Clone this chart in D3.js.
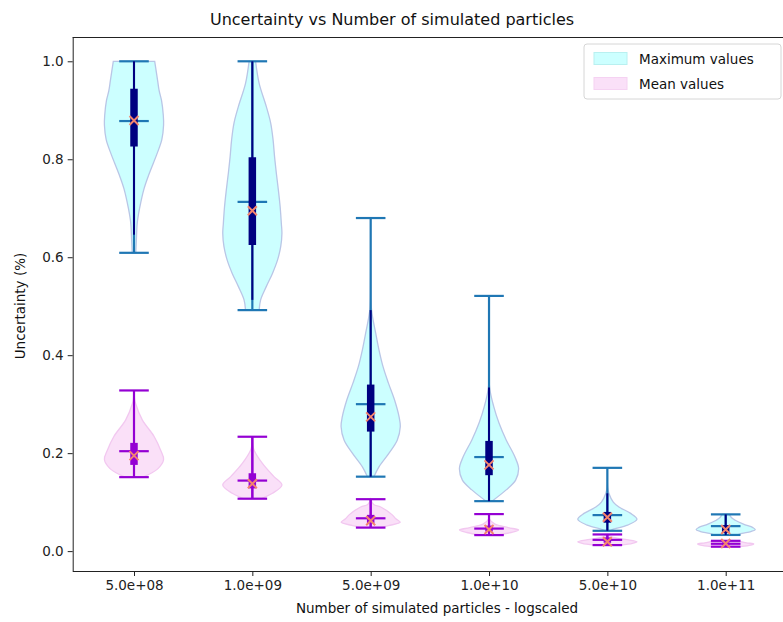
<!DOCTYPE html>
<html>
<head>
<meta charset="utf-8">
<script src="https://cdn.jsdelivr.net/npm/d3@7"></script>
<style>
  body { margin: 0; background: #fff; }
  svg { font-family: "DejaVu Sans", sans-serif; display: block; }
</style>
</head>
<body>
<svg id="chart" width="783" height="622"></svg>
<script>

// category labels for the x axis (positions 1..6)
const categories = ["5.0e+08", "1.0e+09", "5.0e+09", "1.0e+10", "5.0e+10", "1.0e+11"];
const yTicks = [0.0, 0.2, 0.4, 0.6, 0.8, 1.0];

// stats of "Maximum values" violins
const maxMin    = [0.609, 0.492, 0.152, 0.102, 0.0415, 0.033];
const maxQ1     = [0.826, 0.625, 0.244, 0.155, 0.058, 0.037];
const maxMedian = [0.878, 0.713, 0.300, 0.192, 0.0735, 0.051];
const maxQ3     = [0.944, 0.804, 0.340, 0.225, 0.080, 0.053];
const maxMax    = [1.0, 1.0, 0.680, 0.521, 0.170, 0.075];
const maxMean   = [0.879, 0.695, 0.274, 0.176, 0.069, 0.044];
const maxWhiskLo = [0.646, 0.513, 0.152, 0.102, 0.0415, 0.033];
const maxWhiskHi = [1.0, 1.0, 0.492, 0.334, 0.118, 0.075];

// stats of "Mean values" violins
const meanMin    = [0.151, 0.107, 0.048, 0.0327, 0.0123, 0.009];
const meanQ1     = [0.176, 0.128, 0.057, 0.040, 0.017, 0.012];
const meanMedian = [0.204, 0.144, 0.067, 0.046, 0.023, 0.015];
const meanQ3     = [0.221, 0.159, 0.074, 0.052, 0.028, 0.018];
const meanMax    = [0.328, 0.2335, 0.106, 0.0756, 0.034, 0.021];
const meanMean   = [0.195, 0.1375, 0.062, 0.044, 0.019, 0.0155];

// violin outlines: [value, relative half width]
const maxShapes = [
  [[0.609,0.06],[0.635,0.08],[0.67,0.11],[0.70,0.19],[0.74,0.34],[0.77,0.51],[0.81,0.77],[0.84,0.94],[0.87,1.0],[0.89,0.99],[0.92,0.93],[0.94,0.85],[0.96,0.80],[1.0,0.70]],
  [[0.492,0.23],[0.513,0.28],[0.54,0.47],[0.567,0.68],[0.594,0.85],[0.622,0.96],[0.649,1.0],[0.669,0.98],[0.703,0.94],[0.737,0.88],[0.772,0.81],[0.806,0.75],[0.84,0.70],[0.874,0.62],[0.908,0.47],[0.955,0.23],[1.0,0.11]],
  [[0.152,0.11],[0.172,0.28],[0.20,0.62],[0.227,0.90],[0.254,1.0],[0.274,0.96],[0.308,0.81],[0.343,0.60],[0.376,0.42],[0.411,0.28],[0.445,0.17],[0.492,0.03],[0.55,0.005],[0.68,0.0]],
  [[0.102,0.10],[0.125,0.58],[0.145,0.90],[0.169,1.0],[0.193,0.87],[0.227,0.58],[0.261,0.34],[0.295,0.16],[0.334,0.02],[0.40,0.005],[0.521,0.0]],
  [[0.0415,0.10],[0.044,0.17],[0.053,0.68],[0.065,1.0],[0.077,0.79],[0.09,0.39],[0.10,0.2],[0.118,0.05],[0.13,0.01],[0.17,0.0]],
  [[0.033,0.40],[0.036,0.55],[0.040,0.85],[0.044,1.0],[0.048,0.92],[0.055,0.6],[0.063,0.32],[0.068,0.2],[0.075,0.12]]
];
const meanShapes = [
  [[0.151,0.30],[0.155,0.45],[0.169,0.82],[0.187,1.0],[0.206,0.90],[0.234,0.68],[0.268,0.28],[0.302,0.05],[0.31,0.02],[0.328,0.0]],
  [[0.107,0.32],[0.108,0.34],[0.118,0.68],[0.135,1.0],[0.152,0.73],[0.179,0.34],[0.206,0.06],[0.215,0.02],[0.2335,0.0]],
  [[0.048,0.35],[0.052,0.6],[0.059,1.0],[0.066,0.85],[0.074,0.73],[0.09,0.34],[0.095,0.1],[0.106,0.0]],
  [[0.0327,0.25],[0.038,0.75],[0.043,1.0],[0.048,0.65],[0.055,0.2],[0.065,0.02],[0.0756,0.0]],
  [[0.0123,0.45],[0.016,0.85],[0.019,1.0],[0.024,0.6],[0.029,0.15],[0.034,0.02]],
  [[0.009,0.5],[0.012,0.85],[0.0145,0.95],[0.017,0.7],[0.021,0.4]]
];

const svg = d3.select("#chart");
const axLeft = 72.7, axRight = 787, axTop = 37, axBottom = 571;

const x = d3.scaleLinear().domain([0.482, 6.518]).range([axLeft, axRight]);
const y = d3.scaleLinear().domain([-0.0406, 1.0496]).range([axBottom, axTop]);
const halfW = x(1.25) - x(1);     // widths=0.5
const capW = x(1.125) - x(1);

const plot = svg.append("g");

function drawSeries(shapes, mins, q1s, meds, q3s, maxs, means, wlo, whi, fill, edge, lineCol, boxCol) {
  const area = d3.area()
    .curve(d3.curveCatmullRom)
    .y(d => y(d[0]));

  shapes.forEach(function(s, i) {
    let cx = x(i + 1);
    area.x0(d => cx - d[1] * halfW).x1(d => cx + d[1] * halfW);
    plot.append("path")
      .attr("d", area(s))
      .attr("fill", fill)
      .attr("stroke", edge)
      .attr("stroke-width", 1.3);
  });

  const g = plot.append("g");
  // bars min -> max
  g.selectAll(null).data(mins).enter().append("line")
    .attr("x1", (d, i) => x(i + 1)).attr("x2", (d, i) => x(i + 1))
    .attr("y1", d => y(d)).attr("y2", (d, i) => y(maxs[i]))
    .attr("stroke", lineCol).attr("stroke-width", 2.2);
  // caps + median
  [mins, maxs, meds].forEach(function(arr) {
    g.selectAll(null).data(arr).enter().append("line")
      .attr("x1", (d, i) => x(i + 1) - capW).attr("x2", (d, i) => x(i + 1) + capW)
      .attr("y1", d => y(d)).attr("y2", d => y(d))
      .attr("stroke", lineCol).attr("stroke-width", 2.2);
  });
  // whiskers
  g.selectAll(null).data(wlo).enter().append("line")
    .attr("x1", (d, i) => x(i + 1)).attr("x2", (d, i) => x(i + 1))
    .attr("y1", d => y(d)).attr("y2", (d, i) => y(whi[i]))
    .attr("stroke", boxCol).attr("stroke-width", 2);
  // boxes q1-q3
  g.selectAll(null).data(q1s).enter().append("line")
    .attr("x1", (d, i) => x(i + 1)).attr("x2", (d, i) => x(i + 1))
    .attr("y1", d => y(d)).attr("y2", (d, i) => y(q3s[i]))
    .attr("stroke", boxCol).attr("stroke-width", 7.5);
  // mean markers
  g.selectAll(null).data(means).enter().append("path")
    .attr("transform", (d, i) => "translate(" + x(i + 1) + "," + y(d) + ")")
    .attr("d", "M-4.5,-4.5L4.5,4.5M-4.5,4.5L4.5,-4.5")
    .attr("stroke", "#f4846e").attr("stroke-width", 2).attr("fill", "none");
}

drawSeries(maxShapes, maxMin, maxQ1, maxMedian, maxQ3, maxMax, maxMean, maxWhiskLo, maxWhiskHi,
  "#ccffff", "#b9c6e6", "#1f77b4", "#000080");
drawSeries(meanShapes, meanMin, meanQ1, meanMedian, meanQ3, meanMax, meanMean, meanMin, meanMax,
  "#fae0f8", "#f2c8f0", "#9400d3", "#9400d3");

// axes
const yAxis = svg.append("g")
  .attr("transform", "translate(" + axLeft + ",0)")
  .call(d3.axisLeft(y).tickValues(yTicks).tickFormat(d3.format(".1f")).tickSize(5).tickPadding(4));
const xAxis = svg.append("g")
  .attr("transform", "translate(0," + axBottom + ")")
  .call(d3.axisBottom(x).tickValues(d3.range(1, 7)).tickFormat(d => categories[d - 1]).tickSize(5).tickPadding(4));
[xAxis, yAxis].forEach(function(a) {
  a.selectAll("text").attr("font-size", 13.5).attr("fill", "#222").attr("font-family", "DejaVu Sans");
  a.selectAll("line").attr("stroke", "#222");
  a.select(".domain").attr("stroke", "#222");
});
xAxis.select(".domain").attr("d", "M" + axLeft + ",0.5H" + axRight);
yAxis.select(".domain").attr("d", "M0.5," + axBottom + "V" + axTop);
svg.append("line").attr("x1", axLeft).attr("x2", axRight).attr("y1", axTop + 0.5).attr("y2", axTop + 0.5).attr("stroke", "#222");

svg.append("text").attr("x", 392).attr("y", 25).attr("text-anchor", "middle")
  .attr("font-size", 16).attr("fill", "#111").text("Uncertainty vs Number of simulated particles");
svg.append("text").attr("x", 437).attr("y", 613).attr("text-anchor", "middle")
  .attr("font-size", 13.5).attr("fill", "#111").text("Number of simulated particles - logscaled");
svg.append("text").attr("transform", "translate(25,306) rotate(-90)").attr("text-anchor", "middle")
  .attr("font-size", 13.5).attr("fill", "#111").text("Uncertainty (%)");

// legend
const legendItems = [
  { label: "Maximum values", fill: "#ccffff", edge: "#b8f0f0" },
  { label: "Mean values", fill: "#fae0f8", edge: "#f5d2f2" }
];
const lg = svg.append("g").attr("transform", "translate(584,44)");
lg.append("rect").attr("width", 197).attr("height", 55).attr("rx", 3)
  .attr("fill", "#fff").attr("fill-opacity", 0.8).attr("stroke", "#d6d6d6");
legendItems.forEach(function(it, i) {
  lg.append("rect").attr("x", 10).attr("y", 8.5 + i * 25).attr("width", 33).attr("height", 12)
    .attr("fill", it.fill).attr("stroke", it.edge);
  lg.append("text").attr("x", 55).attr("y", 20 + i * 25).attr("font-size", 13.5).attr("fill", "#111").text(it.label);
});

</script>
</body>
</html>
